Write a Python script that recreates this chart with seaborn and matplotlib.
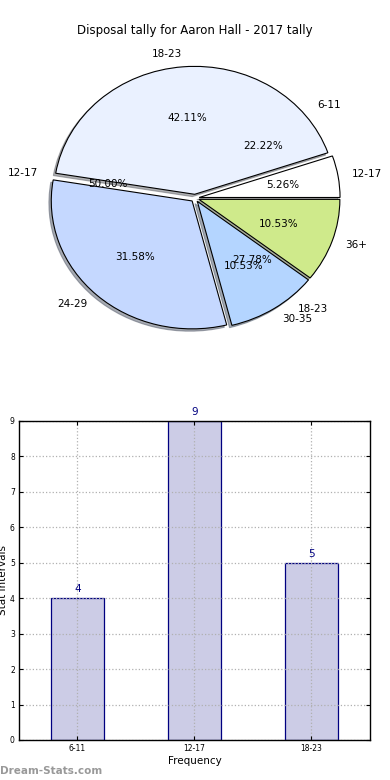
import matplotlib
matplotlib.use("Agg")
import matplotlib.pyplot as plt
import seaborn as sns
import pandas as pd

# ---- data ----
title = "Disposal tally for Aaron Hall - 2017 tally"
pie_labels = ["12-17", "18-23", "24-29", "30-35", "36+"]
pie_values = [1, 8, 6, 2, 2]
pie_colors = ["#ffffff", "#eaf1ff", "#c5d8ff", "#b4d5ff", "#cfea8b"]

freq_labels = ["6-11", "12-17", "18-23"]
freq_values = [4, 9, 5]

sns.set_style("white")
plt.rcParams['font.family'] = ['DejaVu Sans']
plt.rcParams['text.color'] = 'black'
plt.rcParams['axes.labelcolor'] = 'black'
plt.rcParams['xtick.color'] = 'black'
plt.rcParams['ytick.color'] = 'black'

fig = plt.figure(figsize=(3.9, 7.8), dpi=100)

# ---- pie ----
axp = fig.add_axes([0.0485, 0.541, 0.903, 0.41])
# frequency pie (labels only)
w2, t2, a2 = axp.pie(freq_values, labels=freq_labels, autopct="%.2f%%",
                     explode=[0.03] * len(freq_values), startangle=0,
                     labeldistance=1.1, pctdistance=0.6,
                     wedgeprops=dict(fill=False, linewidth=0),
                     textprops=dict(fontsize=7.5, color="black"))
w1, t1, a1 = axp.pie(pie_values, labels=pie_labels, colors=pie_colors,
                     autopct="%.2f%%", explode=[0.03] * len(pie_values),
                     startangle=0,
                     shadow={'ox': -0.012, 'oy': -0.013, 'shade': 0.6},
                     labeldistance=1.1, pctdistance=0.6,
                     wedgeprops=dict(edgecolor="black", linewidth=0.8),
                     textprops=dict(fontsize=7.5, color="black"))
axp.set_aspect("auto")
axp.set_xlim(-1.25, 1.25)
axp.set_ylim(-1.25, 1.25)
axp.axis("off")
fig.text(0.5, 0.9615, title, ha="center", va="center", fontsize=8.5,
         color="black")

# ---- bar chart ----
axb = fig.add_axes([0.0487, 0.0513, 0.9, 0.409])
df = pd.DataFrame({"label": freq_labels, "value": freq_values})
sns.barplot(data=df, x="label", y="value", ax=axb, color="#cccce6",
            saturation=1, edgecolor="#000080", linewidth=0.9, width=0.45)
axb.set_xlim(-0.5, 2.5)
axb.set_ylim(0, 9)
axb.set_yticks(range(0, 10))
axb.grid(True, linestyle=":", color="#b0b0b0", linewidth=0.9)
axb.set_axisbelow(False)
for p in axb.patches:
    p.set_zorder(1)
for gl in axb.get_xgridlines() + axb.get_ygridlines():
    gl.set_zorder(2)
for spine in axb.spines.values():
    spine.set_visible(True)
    spine.set_color("black")
    spine.set_linewidth(1.0)
    spine.set_zorder(3)
axb.tick_params(axis="both", labelsize=5.5, direction="in", length=3,
                top=True, right=True, bottom=True, left=True, pad=3)
for i, v in enumerate(freq_values):
    axb.annotate(str(v), (i, v), xytext=(0, 3), textcoords="offset points",
                 ha="center", va="bottom", fontsize=7.5, color="#000080")
axb.set_xlabel("Frequency", fontsize=7.5, labelpad=2)
axb.set_ylabel("Stat Intervals", fontsize=7.5)
axb.yaxis.set_label_coords(-0.032, 0.5)

fig.text(0.0, 0.012, "Dream-Stats.com", ha="left", va="center",
         fontsize=7.5, color="#999999", fontweight="bold")

fig.savefig("out.png", dpi=100)
